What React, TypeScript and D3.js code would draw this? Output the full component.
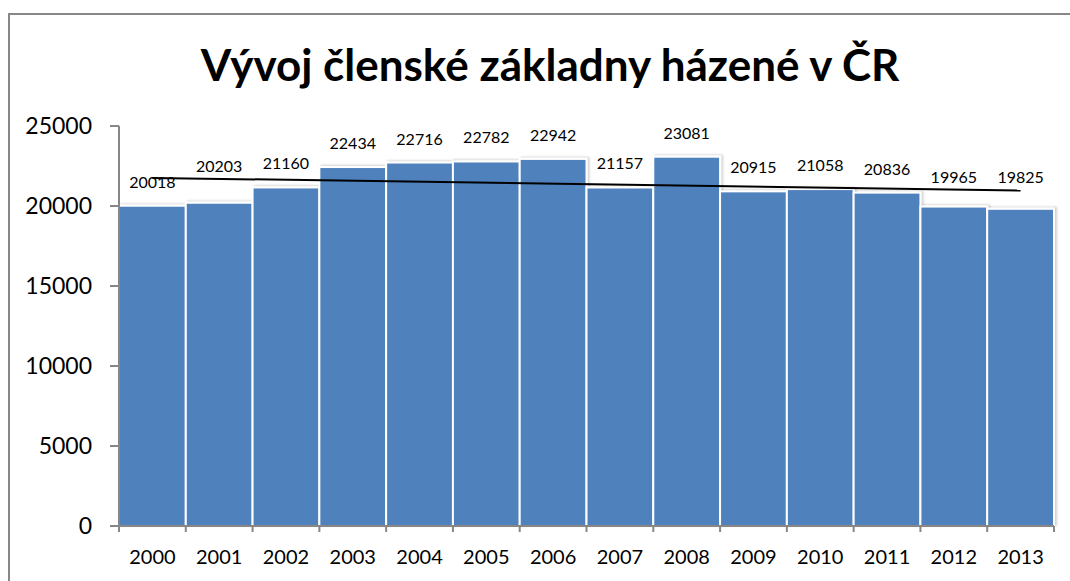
import React from "react";
import * as d3 from "d3";

const years = ["2000","2001","2002","2003","2004","2005","2006","2007","2008","2009","2010","2011","2012","2013"];
const members = [20018,20203,21160,22434,22716,22782,22942,21157,23081,20915,21058,20836,19965,19825];
const yTicks = [0,5000,10000,15000,20000,25000];
const title = "Vývoj členské základny házené v ČR";

const W = 1070, H = 581;
const left = 119, right = 1054, top = 126, bottom = 526;
const FONT = "Lato, 'Open Sans', sans-serif";

export default function App() {
  const x = d3.scaleBand<string>().domain(years).range([left, right]).paddingInner(0).paddingOuter(0);
  const y = d3.scaleLinear().domain([0, 25000]).range([bottom, top]);

  // linear regression trend line
  const idx = members.map((_, i) => i);
  const mx = d3.mean(idx) as number;
  const my = d3.mean(members) as number;
  const sxy = d3.sum(idx, i => (i - mx) * (members[i] - my));
  const sxx = d3.sum(idx, i => (i - mx) ** 2);
  const slope = sxy / sxx;
  const icpt = my - slope * mx;
  const trend = (i: number) => icpt + slope * i;
  const cx = (i: number) => (x(years[i]) as number) + x.bandwidth() / 2;
  const line = d3.line<number>().x(i => cx(i)).y(i => y(trend(i)));
  const trendPath = line([0, members.length - 1]) as string;

  const bw = x.bandwidth();

  return (
    <svg width={W} height={H} style={{ position: "absolute", left: 0, top: 0, background: "#fff" }}>
      <defs>
        <filter id="sh" x="-10%" y="-10%" width="130%" height="130%">
          <feDropShadow dx="2" dy="-1" stdDeviation="1.2" floodColor="#000" floodOpacity="0.18" />
        </filter>
      </defs>
      <rect x={0} y={0} width={W} height={H} fill="#fff" />
      <rect x={9} y={14} width={W + 20} height={H + 20} fill="none" stroke="#878787" strokeWidth={2} />
      <text x={550} y={81} textAnchor="middle" fontFamily={FONT} fontWeight="bold" fontSize={44} fill="#000">{title}</text>

      {members.map((v, i) => (
        <rect key={years[i]} x={x(years[i]) as number} y={y(v)} width={bw} height={bottom - y(v)}
          fill="#4f81bd" stroke="#fff" strokeWidth={2} filter="url(#sh)" />
      ))}

      {/* axes */}
      <line x1={left} x2={left} y1={top} y2={bottom} stroke="#878787" strokeWidth={2} />
      {yTicks.map(t => (
        <g key={t}>
          <line x1={left - 9} x2={left} y1={y(t)} y2={y(t)} stroke="#878787" strokeWidth={2} />
          <text x={92} y={y(t) + 8} textAnchor="end" fontFamily={FONT} fontSize={23} fill="#000">{t}</text>
        </g>
      ))}
      <line x1={left} x2={right} y1={bottom} y2={bottom} stroke="#878787" strokeWidth={2} />
      {years.concat(["end"]).map((yr, i) => {
        const xp = i < years.length ? (x(yr) as number) : right;
        return <line key={"t" + i} x1={xp} x2={xp} y1={bottom} y2={bottom + 6} stroke="#878787" strokeWidth={2} />;
      })}
      {years.map((yr, i) => (
        <text key={"l" + yr} x={cx(i)} y={564} textAnchor="middle" fontFamily={FONT} fontSize={20} fill="#000">{yr}</text>
      ))}

      <path d={trendPath} stroke="#000" strokeWidth={2} fill="none" />

      {members.map((v, i) => {
        let base = y(v) - 18;
        const ty = y(trend(i));
        const d = base - ty;
        if (d > -5 && d < 8) base = ty - 7;
        return (
          <text key={"v" + i} x={cx(i)} y={base} textAnchor="middle" fontFamily={FONT} fontSize={16} fill="#000">{v}</text>
        );
      })}
    </svg>
  );
}
